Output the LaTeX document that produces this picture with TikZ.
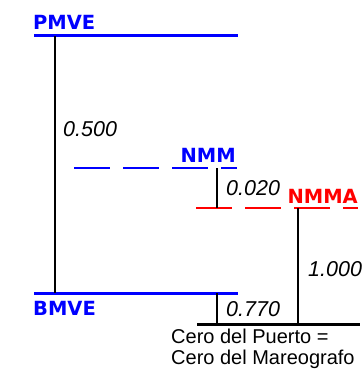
\documentclass[tikz,border=0pt]{standalone}
\usepackage{fontspec}
\setmainfont{Liberation Sans}
\newfontfamily\lvfont{DejaVu Sans}
\definecolor{lvblue}{RGB}{0,0,255}
\definecolor{lvred}{RGB}{255,0,0}
\begin{document}
\begin{tikzpicture}[x=1pt,y=-1pt,
  level/.style={line width=3pt,lvblue},
  dlevel/.style={line width=2pt,dash pattern=on 36pt off 13pt},
  vline/.style={line width=1.4pt,black},
  zero/.style={line width=3pt,black},
  lvlabel/.style={inner sep=0pt,font=\lvfont\fontsize{19.5}{22}\selectfont\bfseries},
  val/.style={inner sep=0pt,anchor=base west,font=\fontsize{21.5}{24}\selectfont\itshape},
  note/.style={inner sep=0pt,anchor=base west,font=\fontsize{20}{22}\selectfont}]
\useasboundingbox (0,0) rectangle (362,369);
% levels
\coordinate (pmveL) at (34,36); \coordinate (pmveR) at (238,36);
\coordinate (bmveL) at (34,293); \coordinate (bmveR) at (238,293);
\coordinate (nmmL) at (74,168); \coordinate (nmmR) at (237,168);
\coordinate (nmmaL) at (196,208); \coordinate (nmmaR) at (358,208);
\coordinate (zeroL) at (197,324); \coordinate (zeroR) at (360,324);
\draw[level] (pmveL) -- (pmveR);
\draw[level] (bmveL) -- (bmveR);
\draw[dlevel,lvblue] (nmmL) -- (nmmR);
\draw[dlevel,lvred] (nmmaL) -- (nmmaR);
\draw[zero] (zeroL) -- (zeroR);
% verticals
\coordinate (a1) at (55,36); \coordinate (a2) at (55,293);
\coordinate (b1) at (217,168); \coordinate (b2) at (217,208);
\coordinate (c1) at (217,293); \coordinate (c2) at (217,324);
\coordinate (d1) at (298,208); \coordinate (d2) at (298,324);
\draw[vline] (a1) -- (a2);
\draw[vline] (b1) -- (b2);
\draw[vline] (c1) -- (c2);
\draw[vline] (d1) -- (d2);
% labels
\node[lvlabel,lvblue,anchor=base west] (pmve) at (33,30) {PMVE};
\node[lvlabel,lvblue,anchor=base west] (bmve) at (33,315) {BMVE};
\node[lvlabel,lvblue,anchor=base east] (nmm) at (236,162) {NMM};
\node[lvlabel,lvred,anchor=base east] (nmma) at (358,203) {NMMA};
\node[val] (v500) at (63,136) {0.500};
\node[val] (v020) at (226,195) {0.020};
\node[val] (v1000) at (308,276) {1.000};
\node[val] (v770) at (226,316) {0.770};
\node[note] (cero1) at (171,343) {Cero del Puerto =};
\node[note] (cero2) at (171,364) {Cero del Mareografo};
\end{tikzpicture}
\end{document}
